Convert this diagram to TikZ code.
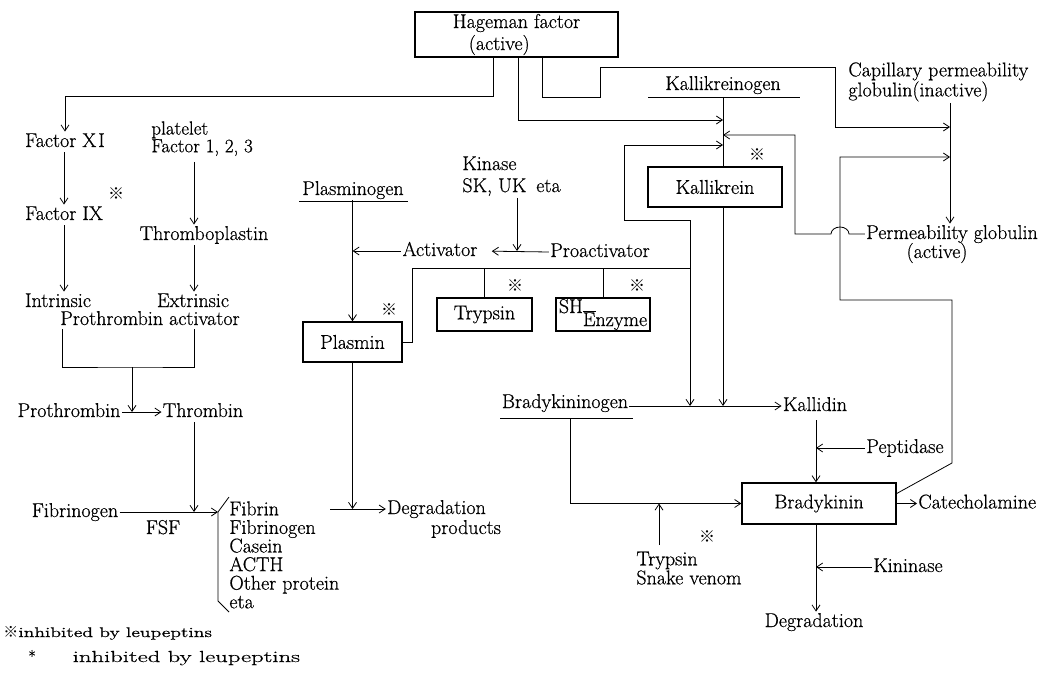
\documentclass[tikz,border=0pt]{standalone}
\usepackage{fontspec}
\setmainfont{Latin Modern Roman}[FakeBold=0.6]
\newfontfamily\cjk{Noto Sans CJK JP}
\usetikzlibrary{arrows.meta}
\begin{document}
\begin{tikzpicture}[x=1pt,y=-1pt,
  font=\fontsize{20pt}{22pt}\selectfont,
  line width=0.8pt,
  >={Straight Barb[length=6pt,width=8pt]},
  t/.style={inner sep=1pt, text height=14pt, text depth=4pt},
  box/.style={draw, line width=1.4pt, inner sep=0pt},
  km/.style={inner sep=0pt, font=\cjk\fontsize{16pt}{16pt}\selectfont},
  ml/.style={anchor=north west, align=left, inner sep=0pt}]
\useasboundingbox[fill=white] (0,0) rectangle (1040,676);

% ---------- Hageman factor
\node[box, minimum width=203pt, minimum height=45pt, align=left] (hag) at (516.5,34.5)
  {Hageman factor\\\hspace{16pt}(active)};

% ---------- left column
\node[t] (fxi) at (65,142) {Factor X\kern2pt I};
\node[t] (fix) at (64,215) {Factor IX};
\node[km] (s1) at (116,194) {※};
\node[t] (intr) at (58,302) {Intrinsic};
\node[t] (extr) at (193,302) {Extrinsic};
\node[t] (pact) at (150,320) {Prothrombin activator};
\node[t] (prot) at (69,412) {Prothrombin};
\node[t] (thr) at (203,412) {Thrombin};
\node[t] (fibg) at (75,512) {Fibrinogen};
\node[t] (fsf) at (163,529) {FSF};
\node[ml, font=\fontsize{20pt}{18.6pt}\selectfont] (lst) at (229,501)
  {Fibrin\\Fibrinogen\\Casein\\ACTH\\Other protein\\eta};
\node[ml, font=\fontsize{19pt}{14pt}\selectfont] (plt) at (151,121)
  {platelet\\Factor 1, 2, 3};
\node[t] (tpl) at (204,235) {Thromboplastin};

\coordinate (j1) at (132,367);
\coordinate (br) at (218,512);
\coordinate (x194) at (194,162);

\draw[->] ([xshift=-23.5pt]hag.south) |- (65,96) -- (fxi.north);
\draw[->] (fxi.south -| fix.north) -- (fix.north);
\draw[->] (fix.south) -- (fix.south |- intr.north);
\draw (62,329) |- (j1) -| (194,329);
\draw[->] (j1) -- (j1 |- prot.east);
\draw[->] (prot.east) -- (thr.west);
\draw[->] (x194) -- (x194 |- tpl.north);
\draw[->] (tpl.south -| x194) -- (x194 |- extr.north);
\draw[->] (thr.south -| x194) -- (x194 |- br);
\draw[->] (fibg.east) -- (br);
\draw (229,497) -- (br) -- (218,601) -- (229,612);

% ---------- middle
\node[t] (plg) at (353,190) {Plasminogen};
\draw (299,201) -- (408,201);
\node[box, minimum width=99pt, minimum height=40pt] (pls) at (352.5,342) {Plasmin};
\node[km] (s2) at (389,310) {※};
\node[t] (act) at (440,251) {Activator};
\node[ml, font=\fontsize{20pt}{22pt}\selectfont] (kin) at (462,156)
  {Kinase\\SK, UK\hspace{10pt}eta};
\node[t] (pro) at (600,252) {Proactivator};
\node[box, minimum width=95pt, minimum height=33pt] (try) at (484.5,314.5) {Trypsin};
\node[km] (s3) at (515,286) {※};
\node[box, minimum width=94pt, minimum height=33pt, text height=12.5pt, text depth=3.5pt] (she) at (603,314.5)
  {\raisebox{6pt}{SH}\raisebox{-7pt}{$\overline{\hbox{E}}$nzyme}};
\node[km] (s4) at (637,286) {※};
\node[t] (dg1) at (436.5,509) {Degradation};
\node[t] (dg2) at (466,529) {products};

\coordinate (k1) at (517,198);
\coordinate (pa) at (412,268);
\coordinate (pb) at (690,268);
\coordinate (d1) at (330,509);

\draw[->] (plg.south -| pls.north) -- (pls.north);
\draw[->, shorten >=13pt] (pro.west) -- (act.east);
\draw[->] (k1) -- (k1 |- act.east);
\draw[->] (act.west) -- (act.west -| pls.north);
\draw (pls.east) -| (pa) -- (pb);
\draw (try.north |- pa) -- (try.north);
\draw (she.north |- pa) -- (she.north);
\draw[->] (pls.south) -- (pls.south |- d1);
\draw[->] (d1) -- (dg1.west);

% ---------- right part
\node[t] (kgen) at (723,85) {Kallikreinogen};
\draw (648,97) -- (800,97);
\node[box, minimum width=134pt, minimum height=40pt] (kal) at (715,187) {Kallikrein};
\node[km] (s5) at (757,155) {※};
\node[ml, font=\fontsize{20pt}{18pt}\selectfont] (cap) at (848,62)
  {Capillary permeability\\globulin(inactive)};
\node[t] (pg) at (952,234) {Permeability globulin};
\node[t] (pga) at (937,253) {(active)};
\node[t] (bkg) at (565,403) {Bradykininogen};
\draw (500,418) -- (633,418);
\node[t] (kld) at (815,406) {Kallidin};
\node[box, minimum width=154pt, minimum height=41pt] (bk) at (819,503.5) {Bradykinin};
\node[t] (pep) at (905,448) {Peptidase};
\node[t, anchor=west] (cat) at (917,503.5) {Catecholamine};
\node[t] (kns) at (908,567) {Kininase};
\node[t] (deg) at (814,622) {Degradation};
\node[ml, font=\fontsize{20pt}{18pt}\selectfont] (tsv) at (636,551.3) {Trypsin\\Snake venom};
\node[km] (s6) at (707,537) {※};

\coordinate (kv) at (723,97);
\coordinate (cv) at (950,103);
\coordinate (bx) at (816,420);
\coordinate (t1) at (659,545);

\draw (kv) -- (kv |- kal.north);
\draw[->] ([xshift=1.5pt]hag.south) |- (723,120);
\draw[->] ([xshift=25.5pt]hag.south) |- (600,97) |- (835,67) |- (950,127);
\draw[->] (pb) -- (690,220) -| (624,145) -- (723,145);
\draw[->] (pb) -- (690,406);
\draw[->] (kal.south -| kv) -- (723,406);
\draw[->] (pg.west) -- (849,234) arc[start angle=0, end angle=180, x radius=9pt, y radius=7pt]
  -- (795,234) |- (723,135);
\draw[->] (cv) -- (cv |- pg.north);
\draw[->] ([yshift=10pt]bk.east) -- (952,463) -- (952,300) -- (840,300) |- (950,157);
\draw[->] (bkg.east |- kld.west) -- (kld.west);
\draw[->] (570,418) |- (bk.west);
\draw[->] (t1) -- (t1 |- bk.west);
\draw[->] (bx) -- (bx |- bk.north);
\draw[->] (pep.west) -- (pep.west -| bx);
\draw[->] (bk.east) -- (cat.west);
\draw[->] (bk.south -| bx) -- (bx |- deg.north);
\draw[->] (kns.west) -- (kns.west -| bx);

% ---------- footnotes
\node[anchor=base west, inner sep=0pt] (fn1) at (3,637)
  {{\cjk\fontsize{15pt}{15pt}\selectfont ※}\fontsize{14pt}{14pt}\selectfont\scalebox{1.40}[1]{inhibited by leupeptins}};
\node[anchor=base west, inner sep=0pt] (fn2) at (28,662)
  {\fontsize{16pt}{16pt}\selectfont *\hspace{37pt}\scalebox{1.54}[1]{inhibited by leupeptins}};
\end{tikzpicture}
\end{document}
